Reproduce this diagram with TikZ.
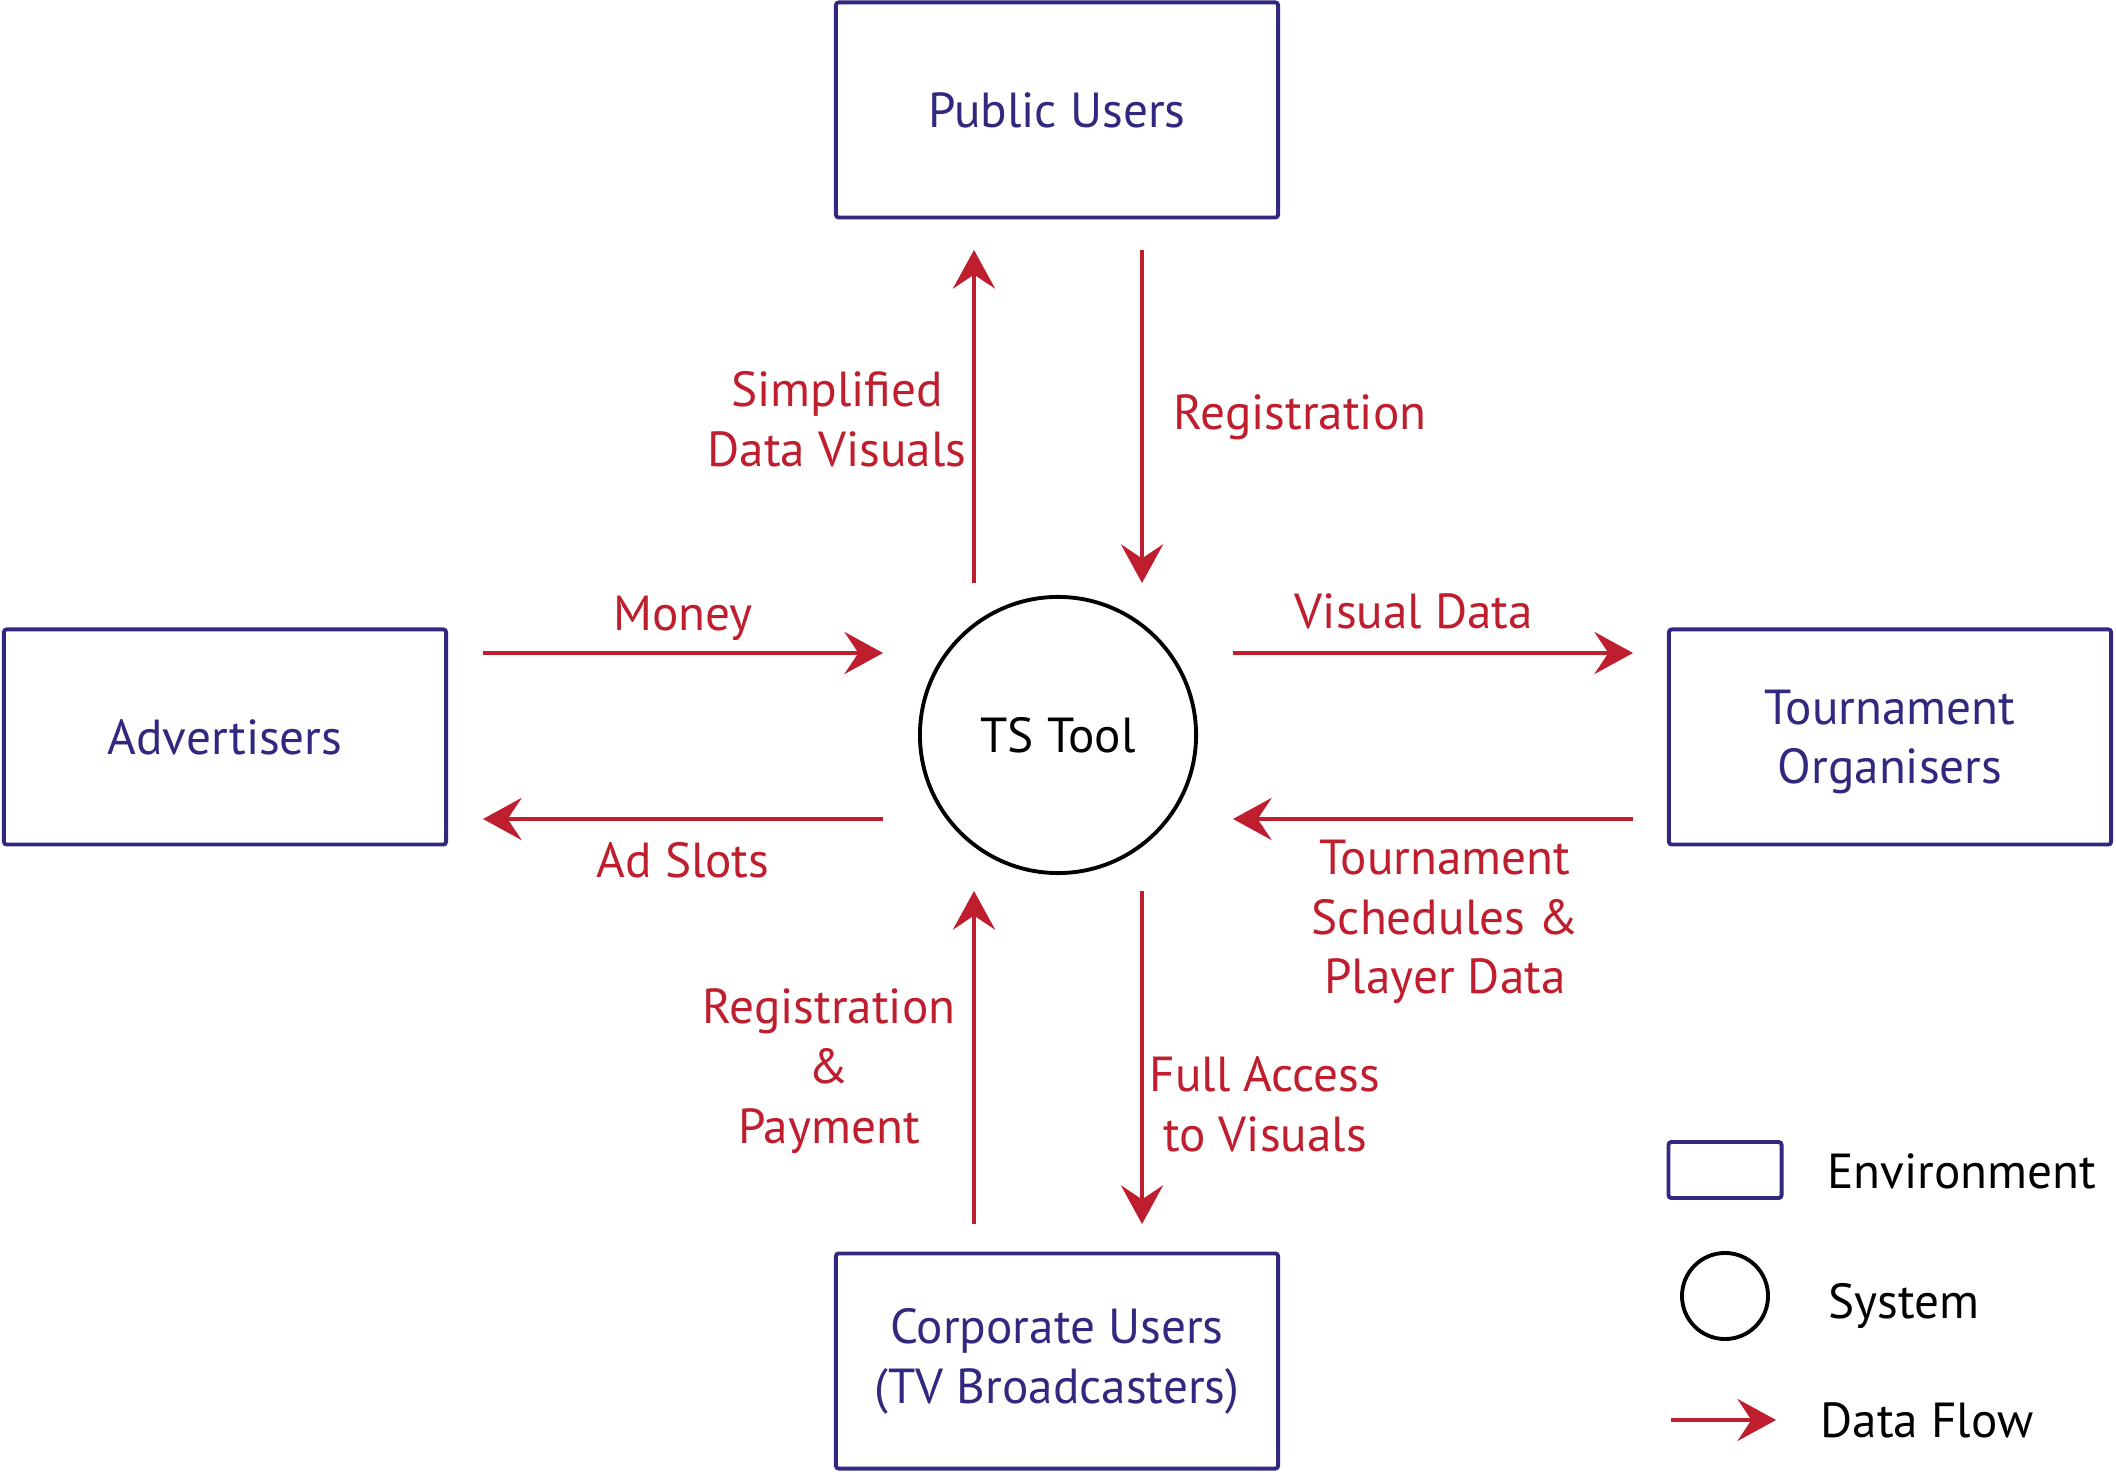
\documentclass[tikz,border=0pt]{standalone}
\usepackage{fontspec}
\setmainfont{PT Sans}
\usetikzlibrary{arrows.meta}
\definecolor{envblue}{HTML}{31287F}
\definecolor{flowred}{HTML}{BE1E2D}
\newcommand{\labelfont}{\fontsize{14}{17}\selectfont}
\tikzset{
  env/.style={draw=envblue, line width=1.1pt, rounded corners=0.8pt, text=envblue,
    minimum width=4.42cm, minimum height=2.15cm, align=center, font=\labelfont},
  sys/.style={circle, draw=black, line width=1.1pt, minimum size=2.76cm, font=\labelfont},
  flow/.style={draw=flowred, line width=0.9pt, -{Stealth[length=11pt,width=12pt,inset=4pt]}},
  flowlabel/.style={text=flowred, align=center, font=\labelfont},
  legendtext/.style={anchor=west, font=\labelfont},
}
\newcommand{\setup}{
    % top pair
    \coordinate (p0) at (974,583);
    \coordinate (p1) at (974,250);
    \coordinate (p2) at (1142,250);
    \coordinate (p3) at (1142,583);
    % left pair
    \coordinate (p4) at (483,653);
    \coordinate (p5) at (883,653);
    \coordinate (p6) at (883,819);
    \coordinate (p7) at (483,819);
    % right pair
    \coordinate (p8) at (1233,653);
    \coordinate (p9) at (1633,653);
    \coordinate (p10) at (1633,819);
    \coordinate (p11) at (1233,819);
    % bottom pair
    \coordinate (p12) at (974,1224);
    \coordinate (p13) at (974,891);
    \coordinate (p14) at (1142,891);
    \coordinate (p15) at (1142,1224);
}
\begin{document}
\begin{tikzpicture}[x=0.01cm,y=-0.01cm]
    \useasboundingbox (0,0) rectangle (2116,1474);
    \setup;

    \node[sys] (tool) at (1058,735) {TS Tool};
    \node[env] (public) at (1057,110) {Public Users};
    \node[env] (adv) at (225,737) {Advertisers};
    \node[env, text depth=0pt] (org) at (1890,737) {};
    \node[text=envblue, align=center, font=\labelfont] (org-text) at (1890,742) {Tournament\\Organisers};
    \node[env] (corp) at (1057,1361) {Corporate Users\\(TV Broadcasters)};

    \draw[flow] (p0) -- (p1);
    \draw[flow] (p2) -- (p3);
    \draw[flow] (p4) -- (p5);
    \draw[flow] (p6) -- (p7);
    \draw[flow] (p8) -- (p9);
    \draw[flow] (p10) -- (p11);
    \draw[flow] (p12) -- (p13);
    \draw[flow] (p14) -- (p15);

    \node[flowlabel] (l-simple) at (837,419) {Simplified\\Data Visuals};
    \node[flowlabel] (l-reg) at (1300,417) {Registration};
    \node[flowlabel] (l-money) at (683,618) {Money};
    \node[flowlabel] (l-ads) at (683,860) {Ad Slots};
    \node[flowlabel] (l-visual) at (1414,611) {Visual Data};
    \node[flowlabel] (l-sched) at (1445,922) {Tournament\\Schedules \&\\Player Data};
    \node[flowlabel] (l-pay) at (829,1071) {Registration\\\&\\Payment};
    \node[flowlabel] (l-full) at (1265,1104) {Full Access\\to Visuals};

    % legend
    \node[env, minimum width=1.13cm, minimum height=0.56cm] (key-env) at (1725,1170) {};
    \node[sys, minimum size=0.86cm] (key-sys) at (1725,1296) {};
    \coordinate (k0) at (1671,1420);
    \coordinate (k1) at (1776,1420);
    \draw[flow] (k0) -- (k1);
    \node[legendtext] (t-env) at (1815,1171) {Environment};
    \node[legendtext] (t-sys) at (1816,1306) {System};
    \node[legendtext] (t-flow) at (1808,1420) {Data Flow};
\end{tikzpicture}
\end{document}
